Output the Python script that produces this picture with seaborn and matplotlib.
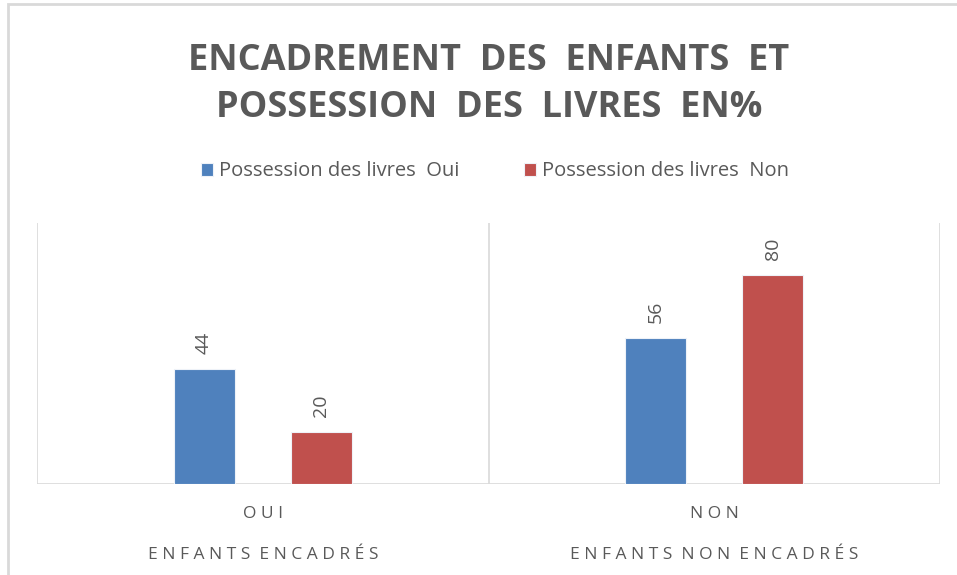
import pandas as pd
import matplotlib.pyplot as plt
import seaborn as sns
from matplotlib.patches import Rectangle

groups = ["O U I", "N O N"]
group_titles = ["E N F A N T S  E N C A D R É S", "E N F A N T S  N O N  E N C A D R É S"]
series = ["Possession des livres  Oui", "Possession des livres  Non"]
livres_oui = [44, 56]
livres_non = [20, 80]
colors = ["#4F81BD", "#C0504D"]

df = pd.DataFrame({
    "encadrement": groups * 2,
    "serie": [series[0]] * 2 + [series[1]] * 2,
    "valeur": livres_oui + livres_non,
})

sns.set_style("white")
plt.rcParams["font.family"] = ["Open Sans", "DejaVu Sans"]
grey = "#595959"
light = "#D9D9D9"

fig = plt.figure(figsize=(9.57, 5.75), dpi=100)
ax = fig.add_axes([0.0387, 0.1583, 0.9435, 0.4539])
sns.barplot(data=df, x="encadrement", y="valeur", hue="serie", palette=colors,
            saturation=1, width=0.52, gap=0.48, edgecolor="#EEF2F8", linewidth=0.8, ax=ax)

ax.set_ylim(0, 100)
ax.set_xlim(-0.5, 1.5)
for s in ax.spines.values():
    s.set_visible(False)
ax.axhline(0, color=light, lw=1.2, zorder=0)
ax.set_yticks([])
ax.set_xlabel("")
ax.set_ylabel("")

# separators between categories
ax.set_xticks([-0.5, 0.5, 1.5], minor=True)
ax.xaxis.grid(True, which="minor", color=light, lw=1.2)
ax.tick_params(axis="x", which="minor", length=60, width=1.2, color=light, direction="out")
ax.set_xticks([0, 1])
ax.set_xticklabels([g + "\n\n" + t for g, t in zip(groups, group_titles)])
ax.tick_params(axis="x", which="major", length=0, pad=16, labelsize=12.5, labelcolor=grey)
for lab in ax.get_xticklabels():
    lab.set_linespacing(1.35)

for c in ax.containers:
    ax.bar_label(c, rotation=90, padding=11, fontsize=14, color=grey)

handles, labels = ax.get_legend_handles_labels()
ax.legend_.remove()
fig.legend(handles, labels, loc="center", bbox_to_anchor=(0.517, 0.702), ncol=2,
           frameon=False, fontsize=14.5, labelcolor=grey, handlelength=0.6,
           handleheight=0.6, handletextpad=0.3, columnspacing=3.2)

fig.text(0.511, 0.853, "ENCADREMENT  DES  ENFANTS  ET\nPOSSESSION  DES  LIVRES  EN%",
         ha="center", va="center", fontsize=26, fontweight="bold", color=grey,
         linespacing=1.42)

fig.add_artist(Rectangle((8 / 957, -0.1), 1.2, 1.1 - 4 / 575, transform=fig.transFigure,
                         fill=False, edgecolor=light, lw=2))

fig.savefig("out.png", dpi=100)
